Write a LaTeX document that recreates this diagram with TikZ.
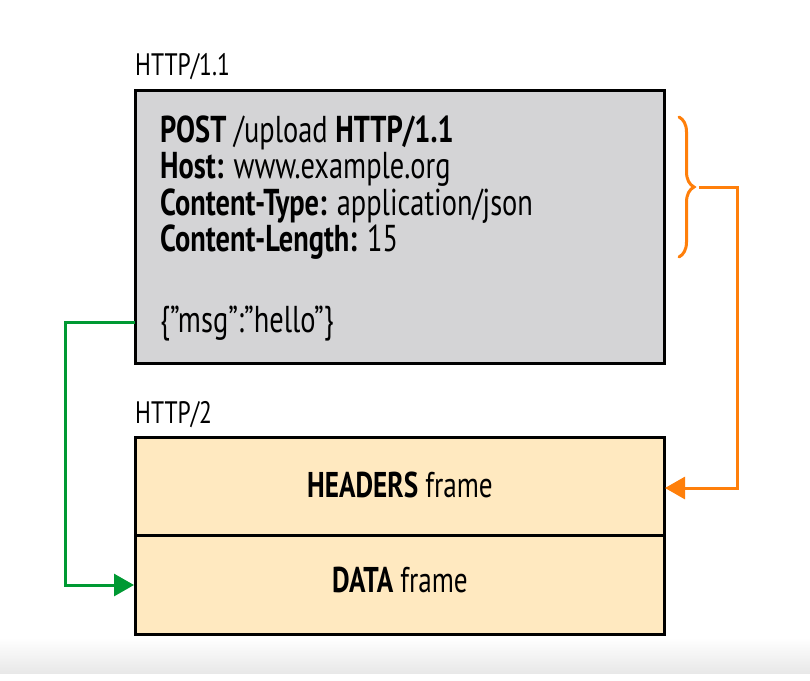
\documentclass[tikz,border=0pt]{standalone}
\usepackage{fontspec}
\setmainfont{PT Sans}[FakeStretch=0.76]
\usetikzlibrary{arrows.meta,decorations.pathreplacing}
\definecolor{boxgray}{HTML}{D4D4D6}
\definecolor{beige}{HTML}{FFE9C0}
\definecolor{orng}{HTML}{FF7F0A}
\definecolor{grn}{HTML}{009933}
\tikzset{
  frame/.style={draw=black, line width=3pt},
  lbl/.style={anchor=base west, inner sep=0pt, font=\fontsize{31}{32}\selectfont},
  body/.style={anchor=base west, inner sep=0pt, font=\fontsize{37.4}{36}\selectfont},
  ftext/.style={anchor=base, inner sep=0pt, font=\fontsize{35.8}{36}\selectfont},
  conn/.style={line width=3pt, -{Triangle[length=20pt,width=22pt]}},
}
\begin{document}
\begin{tikzpicture}[x=1pt,y=-1pt]
\useasboundingbox (0,0) rectangle (810,680);
\fill[white] (0,0) rectangle (810,680);
\shade[top color=white, bottom color=black!9] (0,638) rectangle (810,673);
% HTTP/1.1 box
\node[lbl] (l1) at (135,75) {HTTP/1.1};
\draw[frame, fill=boxgray] (135,90) rectangle (664,363);
\node[body] (t1) at (160,142) {\textbf{POST} /upload \textbf{HTTP/1.1}};
\node[body] (t2) at (160,178) {\textbf{Host:} www.example.org};
\node[body] (t3) at (160,215) {\textbf{Content-Type:} application/json};
\node[body] (t4) at (160,251) {\textbf{Content-Length:} 15};
\node[body] (t5) at (160,332) {\{”msg”:”hello”\}};
\coordinate (gs) at (135,322);
% HTTP/2 box
\node[lbl] (l2) at (135,423) {HTTP/2};
\draw[frame, fill=beige] (135,437) rectangle (664,634);
\draw[frame] (135,535) -- (664,535);
\node[ftext] (hf) at (400,497) {\textbf{HEADERS} frame};
\node[ftext] (df) at (400,592) {\textbf{DATA} frame};
\coordinate (ht) at (665,488);
\coordinate (dt) at (134,585);
% brace and orange connector
\draw[orng, line width=3pt, line cap=round, decorate, decoration={brace, amplitude=15pt}] (679,117) -- (679,257);
\coordinate (bt) at (699,187);
\draw[conn, orng] (bt) -- (737,187) -- (737,488) -- (ht);
% green connector
\draw[conn, grn] (gs) -- (65,322) -- (65,585) -- (dt);
\end{tikzpicture}
\end{document}
